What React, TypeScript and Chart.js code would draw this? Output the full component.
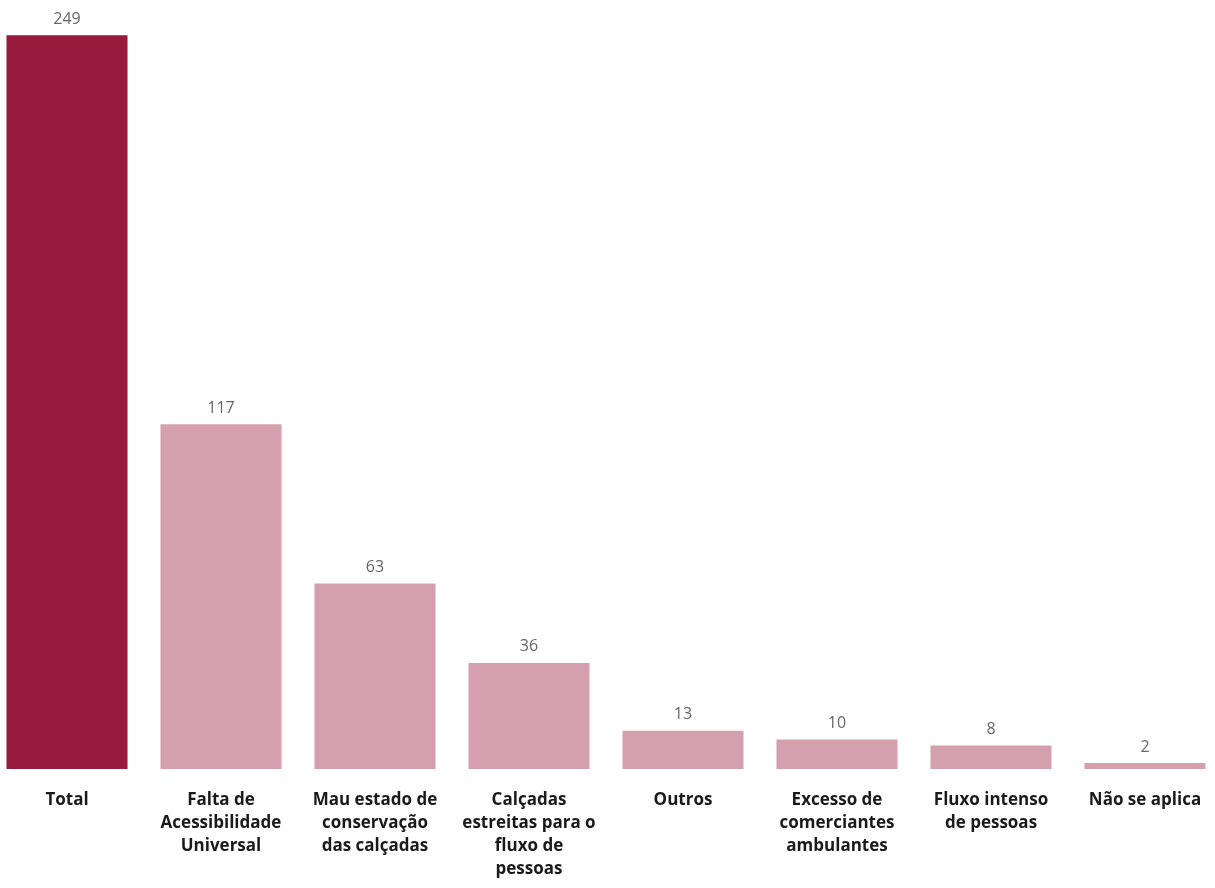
import React, { useEffect, useRef } from "react";
import { Chart, registerables } from "chart.js";

Chart.register(...registerables);

const categories: string[][] = [
  ["Total"],
  ["Falta de", "Acessibilidade", "Universal"],
  ["Mau estado de", "conservação", "das calçadas"],
  ["Calçadas", "estreitas para o", "fluxo de", "pessoas"],
  ["Outros"],
  ["Excesso de", "comerciantes", "ambulantes"],
  ["Fluxo intenso", "de pessoas"],
  ["Não se aplica"],
];
const values: number[] = [249, 117, 63, 36, 13, 10, 8, 2];
const barColors: string[] = [
  "#981a3d",
  "#d5a0ad",
  "#d5a0ad",
  "#d5a0ad",
  "#d5a0ad",
  "#d5a0ad",
  "#d5a0ad",
  "#d5a0ad",
];

const valueLabels = {
  id: "valueLabels",
  afterDatasetsDraw(chart: any) {
    const ctx = chart.ctx;
    const meta = chart.getDatasetMeta(0);
    ctx.save();
    ctx.font = "16px 'Open Sans', sans-serif";
    ctx.fillStyle = "#666666";
    ctx.textAlign = "center";
    ctx.textBaseline = "middle";
    meta.data.forEach((bar: any, i: number) => {
      ctx.fillText(String(values[i]), bar.x, bar.y - 16);
    });
    ctx.restore();
  },
};

export default function App() {
  const ref = useRef<HTMLCanvasElement | null>(null);
  useEffect(() => {
    if (!ref.current) return;
    const chart = new Chart(ref.current, {
      type: "bar",
      data: {
        labels: categories,
        datasets: [
          {
            data: values,
            backgroundColor: barColors,
            borderWidth: 0,
            barPercentage: 0.786,
            categoryPercentage: 1,
          },
        ],
      },
      options: {
        animation: false,
        responsive: false,
        maintainAspectRatio: false,
        layout: { padding: 0 },
        plugins: {
          legend: { display: false },
          tooltip: { enabled: false },
        },
        scales: {
          x: {
            grid: { display: false, drawTicks: false },
            border: { display: false },
            ticks: {
              color: "#1a1a1a",
              padding: 20,
              autoSkip: false,
              maxRotation: 0,
              font: { family: "'Open Sans', sans-serif", size: 17, weight: "bold", lineHeight: 1.35 },
            },
            afterFit: (scale: any) => {
              scale.height = 119;
            },
          },
          y: {
            display: false,
            min: 0,
            max: 261,
          },
        },
      },
      plugins: [valueLabels],
    });
    return () => chart.destroy();
  }, []);
  return (
    <div
      style={{
        position: "fixed",
        left: 0,
        top: 0,
        width: 1215,
        height: 888,
        overflow: "hidden",
        background: "#ffffff",
      }}
    >
      <canvas
        ref={ref}
        width={1232}
        height={888}
        style={{ position: "absolute", left: -10.5, top: 0, width: 1232, height: 888 }}
      />
    </div>
  );
}
